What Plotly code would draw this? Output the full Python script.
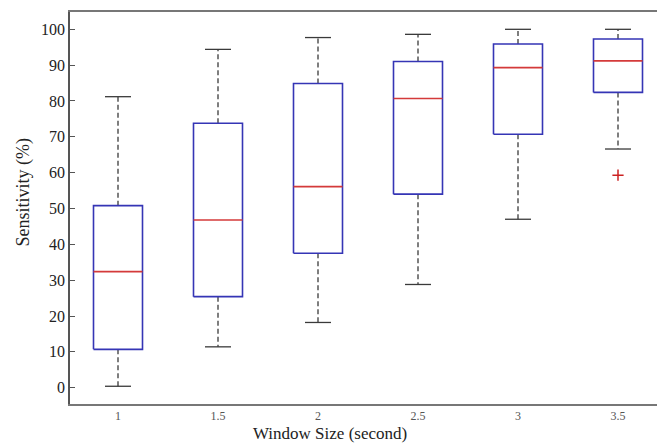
import plotly.graph_objects as go

# Sensitivity (%) summary per window size (box-plot statistics)
window_sizes = ["1", "1.5", "2", "2.5", "3", "3.5"]
whisker_low = [0.4, 11.4, 18.2, 28.8, 47.0, 66.6]
q1 = [10.7, 25.4, 37.5, 54.0, 70.7, 82.4]
median = [32.4, 46.8, 56.1, 80.7, 89.3, 91.2]
q3 = [50.8, 73.8, 84.9, 91.0, 95.9, 97.3]
whisker_high = [81.2, 94.4, 97.7, 98.6, 100.0, 100.0]
outlier_group = ["3.5"]
outlier_value = [59.3]

y_ticks = list(range(0, 101, 10))

BOX_HALF = 0.245
CAP_HALF = 0.13
SERIF = "Liberation Serif, Times New Roman, serif"

positions = list(range(1, len(window_sizes) + 1))

box_x, box_y = [], []
med_x, med_y = [], []
wh_x, wh_y = [], []
cap_x, cap_y = [], []
for p, lo, a, m, b, hi in zip(positions, whisker_low, q1, median, q3, whisker_high):
    box_x += [p - BOX_HALF, p + BOX_HALF, p + BOX_HALF, p - BOX_HALF, p - BOX_HALF, None]
    box_y += [a, a, b, b, a, None]
    med_x += [p - BOX_HALF, p + BOX_HALF, None]
    med_y += [m, m, None]
    wh_x += [p, p, None, p, p, None]
    wh_y += [b, hi, None, a, lo, None]
    cap_x += [p - CAP_HALF, p + CAP_HALF, None, p - CAP_HALF, p + CAP_HALF, None]
    cap_y += [hi, hi, None, lo, lo, None]

out_x = [window_sizes.index(g) + 1 for g in outlier_group]

fig = go.Figure()
fig.add_trace(go.Scatter(x=wh_x, y=wh_y, mode="lines",
                         line=dict(color="#3a3a3a", width=1.3, dash="5px,3px"),
                         hoverinfo="skip"))
fig.add_trace(go.Scatter(x=cap_x, y=cap_y, mode="lines",
                         line=dict(color="#3a3a3a", width=1.3), hoverinfo="skip"))
fig.add_trace(go.Scatter(x=box_x, y=box_y, mode="lines",
                         line=dict(color="#3535b5", width=1.6), hoverinfo="skip"))
fig.add_trace(go.Scatter(x=med_x, y=med_y, mode="lines",
                         line=dict(color="#d43a3a", width=1.6), hoverinfo="skip"))
fig.add_trace(go.Scatter(x=out_x, y=outlier_value, mode="markers",
                         marker=dict(symbol="cross-thin", size=8,
                                     line=dict(color="#cc2222", width=1.5)),
                         hoverinfo="skip"))

fig.update_layout(
    width=657, height=444,
    margin=dict(l=70, r=0, t=12, b=40),
    paper_bgcolor="white", plot_bgcolor="white",
    showlegend=False,
    xaxis=dict(range=[0.52, 6.39], tickmode="array", tickvals=positions,
               ticktext=window_sizes, showgrid=False, zeroline=False,
               showline=True, mirror=True, linecolor="#777777", linewidth=1.5,
               ticks="", tickfont=dict(family=SERIF, size=12, color="#555555")),
    yaxis=dict(range=[-4.55, 104.83], tickmode="array", tickvals=y_ticks,
               showgrid=False, zeroline=False, showline=True, mirror=False,
               linecolor="#555555", linewidth=1.5, ticks="inside", ticklen=5,
               tickcolor="#555555", tickwidth=1.2,
               tickfont=dict(family=SERIF, size=16, color="#222222")),
    annotations=[
        dict(text="Window Size (second)", xref="paper", yref="paper",
             x=0.443, y=-0.075, xanchor="center", yanchor="middle",
             showarrow=False, font=dict(family=SERIF, size=17, color="#222222")),
        dict(text="Sensitivity (%)", xref="paper", yref="paper",
             x=-0.0784, y=0.542, xanchor="center", yanchor="middle",
             textangle=-90, showarrow=False,
             font=dict(family=SERIF, size=18, color="#222222")),
    ],
)

fig.write_html("out.html")
